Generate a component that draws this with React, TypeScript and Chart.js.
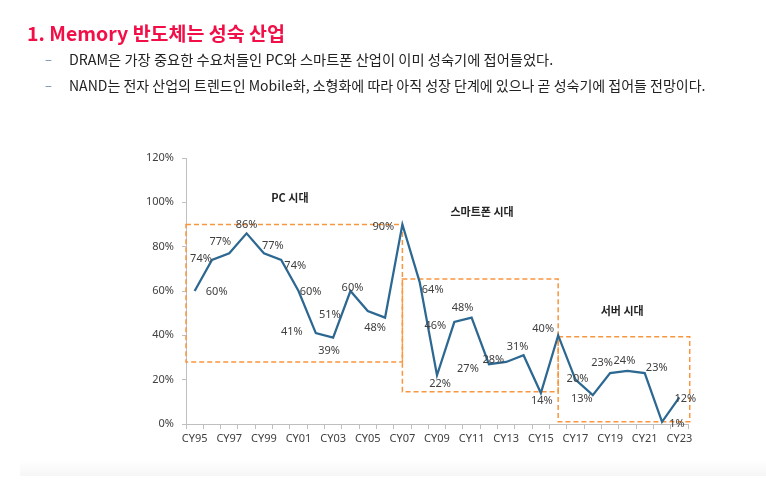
import { useEffect, useRef } from "react";
import { Chart, registerables } from "chart.js";

Chart.register(...registerables);

const categories = [
  "CY95", "CY96", "CY97", "CY98", "CY99", "CY00", "CY01", "CY02", "CY03", "CY04",
  "CY05", "CY06", "CY07", "CY08", "CY09", "CY10", "CY11", "CY12", "CY13", "CY14",
  "CY15", "CY16", "CY17", "CY18", "CY19", "CY20", "CY21", "CY22", "CY23",
];
const growthValues = [
  60, 74, 77, 86, 77, 74, 60, 41, 39, 60, 51, 48, 90, 64, 22, 46, 48, 27, 28, 31,
  14, 40, 20, 13, 23, 24, 23, 1, 12,
];
const pointLabels = growthValues.map((v) => v + "%");

// era boxes in category-index / percent units
const eraNames = ["PC 시대", "스마트폰 시대", "서버 시대"];
const eraStart = [-0.5, 12, 21];
const eraEnd = [12, 21, 28.6];
const eraTop = [90, 65.4, 39.4];
const eraBottom = [28, 14.6, 1];

const yTicks = [0, 20, 40, 60, 80, 100, 120];

// label placement (layout only)
const eraLabelAt: [number, number][] = [
  [5.5, 102],
  [16.6, 95.5],
  [24.7, 51],
];
const labelOffsets: [number, number][] = [
  [22, 1], [-11, -1], [-9, -11], [0, -9], [9, -7], [14, 6], [12, 1], [-24, -1],
  [-4, 13], [2, -3], [-38, 4], [-10, 10], [-19, 2], [13, 8], [3, 9], [-19, 4],
  [-9, -10], [-21, 5], [-13, -2], [-6, -8], [1, 8], [-15, -6], [2, -1], [-11, 4],
  [-8, -10], [-3, -10], [12, -5], [15, 2], [6, 1],
];

const ORANGE = "#f8963f";
const LINE = "#2c6891";
const TEXT = "#404040";
const FONT = '"Noto Sans", "Noto Sans CJK KR", sans-serif';

const overlayPlugin = {
  id: "overlay",
  beforeDatasetsDraw(chart: any) {
    const { ctx, scales } = chart;
    const x = scales.x;
    const y = scales.y;
    ctx.save();
    ctx.strokeStyle = ORANGE;
    ctx.lineWidth = 1.5;
    ctx.setLineDash([5, 3]);
    for (let i = 0; i < eraNames.length; i++) {
      const x0 = x.getPixelForValue(eraStart[i]);
      const x1 = x.getPixelForValue(eraEnd[i]);
      const y0 = y.getPixelForValue(eraTop[i]);
      const y1 = y.getPixelForValue(eraBottom[i]);
      ctx.strokeRect(x0, y0, x1 - x0, y1 - y0);
    }
    ctx.restore();
  },
  afterDatasetsDraw(chart: any) {
    const { ctx, scales } = chart;
    const x = scales.x;
    const y = scales.y;
    ctx.save();
    ctx.textAlign = "center";
    ctx.textBaseline = "middle";
    ctx.fillStyle = "#262626";
    ctx.font = 'bold 11px "Noto Sans CJK KR", sans-serif';
    for (let i = 0; i < eraNames.length; i++) {
      ctx.fillText(
        eraNames[i],
        x.getPixelForValue(eraLabelAt[i][0]),
        y.getPixelForValue(eraLabelAt[i][1])
      );
    }
    ctx.fillStyle = TEXT;
    ctx.font = "11px " + FONT;
    const meta = chart.getDatasetMeta(0);
    meta.data.forEach((pt: any, i: number) => {
      const [dx, dy] = labelOffsets[i];
      ctx.fillText(pointLabels[i], pt.x + dx, pt.y + dy);
    });
    ctx.restore();
  },
};

export default function App() {
  const ref = useRef<HTMLCanvasElement>(null);
  useEffect(() => {
    if (!ref.current) return;
    const chart = new Chart(ref.current, {
      type: "line",
      data: {
        labels: categories,
        datasets: [
          {
            data: growthValues,
            borderColor: LINE,
            borderWidth: 2.25,
            pointRadius: 0,
            tension: 0,
            fill: false,
          },
        ],
      },
      options: {
        responsive: false,
        animation: false,
        layout: { padding: { left: 0, top: 158, right: 78, bottom: 0 } },
        plugins: { legend: { display: false }, tooltip: { enabled: false } },
        scales: {
          x: {
            type: "category",
            offset: true,
            afterFit: (s: any) => {
              s.height = 68;
            },
            grid: {
              offset: true,
              drawOnChartArea: false,
              drawTicks: true,
              tickLength: 5,
              color: "#bfbfbf",
            },
            border: { display: true, color: "#bfbfbf", width: 1 },
            ticks: {
              autoSkip: false,
              maxRotation: 0,
              minRotation: 0,
              padding: 3,
              color: TEXT,
              font: { family: FONT, size: 11 },
              callback: (_v: any, i: number) => (i % 2 === 0 ? categories[i] : ""),
            },
          },
          y: {
            min: yTicks[0],
            max: yTicks[yTicks.length - 1],
            afterFit: (s: any) => {
              s.width = 186;
            },
            afterBuildTicks: (s: any) => {
              s.ticks = yTicks.map((v) => ({ value: v }));
            },
            grid: {
              drawOnChartArea: false,
              drawTicks: true,
              tickLength: 4,
              color: "#bfbfbf",
            },
            border: { display: true, color: "#bfbfbf", width: 1 },
            ticks: {
              padding: 8,
              color: TEXT,
              font: { family: FONT, size: 11 },
              callback: (v: any) => v + "%",
            },
          },
        },
      },
      plugins: [overlayPlugin],
    });
    return () => chart.destroy();
  }, []);

  const korean = '"Noto Sans CJK KR", sans-serif';
  const bulletText = (top: number, scale: number, text: string) => (
    <>
      <div
        style={{
          position: "absolute",
          left: 45,
          top,
          lineHeight: "18px",
          fontFamily: korean,
          fontSize: 13,
          color: "#6f86b0",
        }}
      >
        –
      </div>
      <div
        style={{
          position: "absolute",
          left: 69,
          top,
          lineHeight: "18px",
          fontFamily: korean,
          fontSize: 14,
          color: "#222",
          whiteSpace: "nowrap",
          transformOrigin: "left center",
          transform: `scaleX(${scale})`,
        }}
      >
        {text}
      </div>
    </>
  );
  return (
    <div
      style={{
        position: "absolute",
        left: 0,
        top: 0,
        width: 766,
        height: 492,
        background: "#fff",
        overflow: "hidden",
      }}
    >
      <canvas
        ref={ref}
        width={766}
        height={492}
        style={{ position: "absolute", left: 0, top: 0, width: 766, height: 492 }}
      />
      <div
        style={{
          position: "absolute",
          left: 20,
          top: 460,
          width: 746,
          height: 16,
          background:
            "linear-gradient(to bottom, rgba(0,0,0,0), rgba(0,0,0,0.035))",
        }}
      />
      <div
        style={{
          position: "absolute",
          left: 27,
          top: 20,
          lineHeight: "25px",
          fontFamily: korean,
          fontWeight: 700,
          fontSize: 19.5,
          color: "#f20f48",
          whiteSpace: "nowrap",
        }}
      >
        1. Memory 반도체는 성숙 산업
      </div>
      {bulletText(
        50,
        1.02,
        "DRAM은 가장 중요한 수요처들인 PC와 스마트폰 산업이 이미 성숙기에 접어들었다."
      )}
      {bulletText(
        76,
        1.0,
        "NAND는 전자 산업의 트렌드인 Mobile화, 소형화에 따라 아직 성장 단계에 있으나 곧 성숙기에 접어들 전망이다."
      )}
    </div>
  );
}
